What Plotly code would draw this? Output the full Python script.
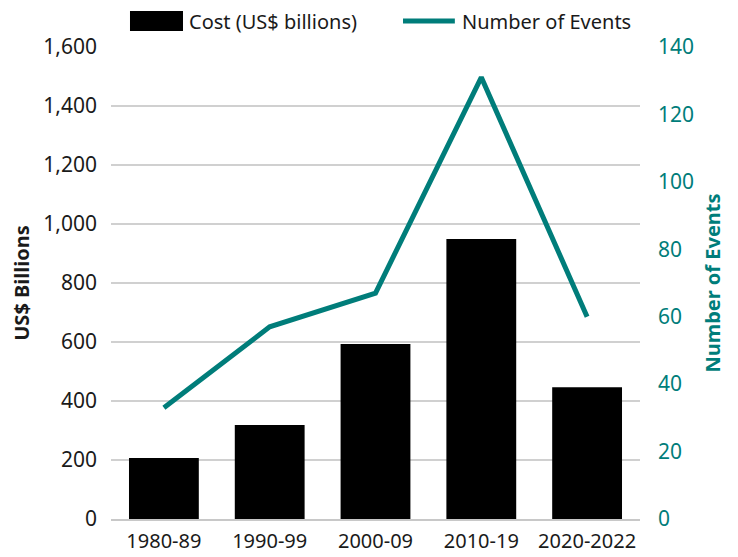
import plotly.graph_objects as go

categories = ["1980-89", "1990-99", "2000-09", "2010-19", "2020-2022"]
cost_billions = [207, 319, 593, 949, 447]
num_events = [33, 57, 67, 131, 60]
left_ticks = [0, 200, 400, 600, 800, 1000, 1200, 1400, 1600]
right_ticks = [0, 20, 40, 60, 80, 100, 120, 140]
series_names = ["Cost (US$ billions)", "Number of Events"]

TEAL = "#007D7A"
FONT = "Noto Sans"
FS = 21

fig = go.Figure()
fig.add_trace(go.Bar(x=categories, y=cost_billions, name=series_names[0],
                     marker=dict(color="#000000", line=dict(width=0)), yaxis="y"))
fig.add_trace(go.Scatter(x=categories, y=num_events, name=series_names[1],
                         mode="lines", line=dict(color=TEAL, width=5), yaxis="y2"))

# custom legend (wide symbols like the reference)
fig.add_shape(type="rect", xref="paper", yref="paper", x0=0.0359, x1=0.1361, y0=1.0339, y1=1.0763,
              fillcolor="#000000", line=dict(width=0))
fig.add_shape(type="line", xref="paper", yref="paper", x0=0.552, x1=0.650, y0=1.0551, y1=1.0551,
              line=dict(color=TEAL, width=5))
fig.add_annotation(xref="paper", yref="paper", x=0.1456, y=1.0530, text=series_names[0],
                   showarrow=False, xanchor="left", yanchor="middle", font=dict(size=20), borderpad=0)
fig.add_annotation(xref="paper", yref="paper", x=0.6616, y=1.0530, text=series_names[1],
                   showarrow=False, xanchor="left", yanchor="middle", font=dict(size=20), borderpad=0)

fig.update_layout(
    width=738, height=557,
    margin=dict(l=103, r=106, t=39, b=46, autoexpand=False),
    paper_bgcolor="white", plot_bgcolor="white",
    font=dict(family=FONT, size=FS, color="#1a1a1a"),
    bargap=0.34,
    showlegend=False,
    xaxis=dict(type="category", showgrid=False, showline=True, linecolor="#c8c8c8", linewidth=1.5,
               ticks="", tickfont=dict(size=20), ticklabelstandoff=3),
    yaxis=dict(range=[0, 1600], tickvals=left_ticks, tickformat=",",
               showgrid=True, gridcolor="#d0d0d0", gridwidth=1.5, zeroline=False,
               ticks="", ticklabelstandoff=13,
               title=dict(text="<b>US$ Billions</b>", font=dict(size=20), standoff=12)),
    yaxis2=dict(range=[0, 140], tickvals=right_ticks, overlaying="y", side="right",
                showgrid=False, zeroline=False, tickfont=dict(color=TEAL, size=FS),
                ticklabelstandoff=17,
                title=dict(text="<b>Number of Events</b>", font=dict(color=TEAL, size=20), standoff=12)),
)

fig.write_html("out.html")
